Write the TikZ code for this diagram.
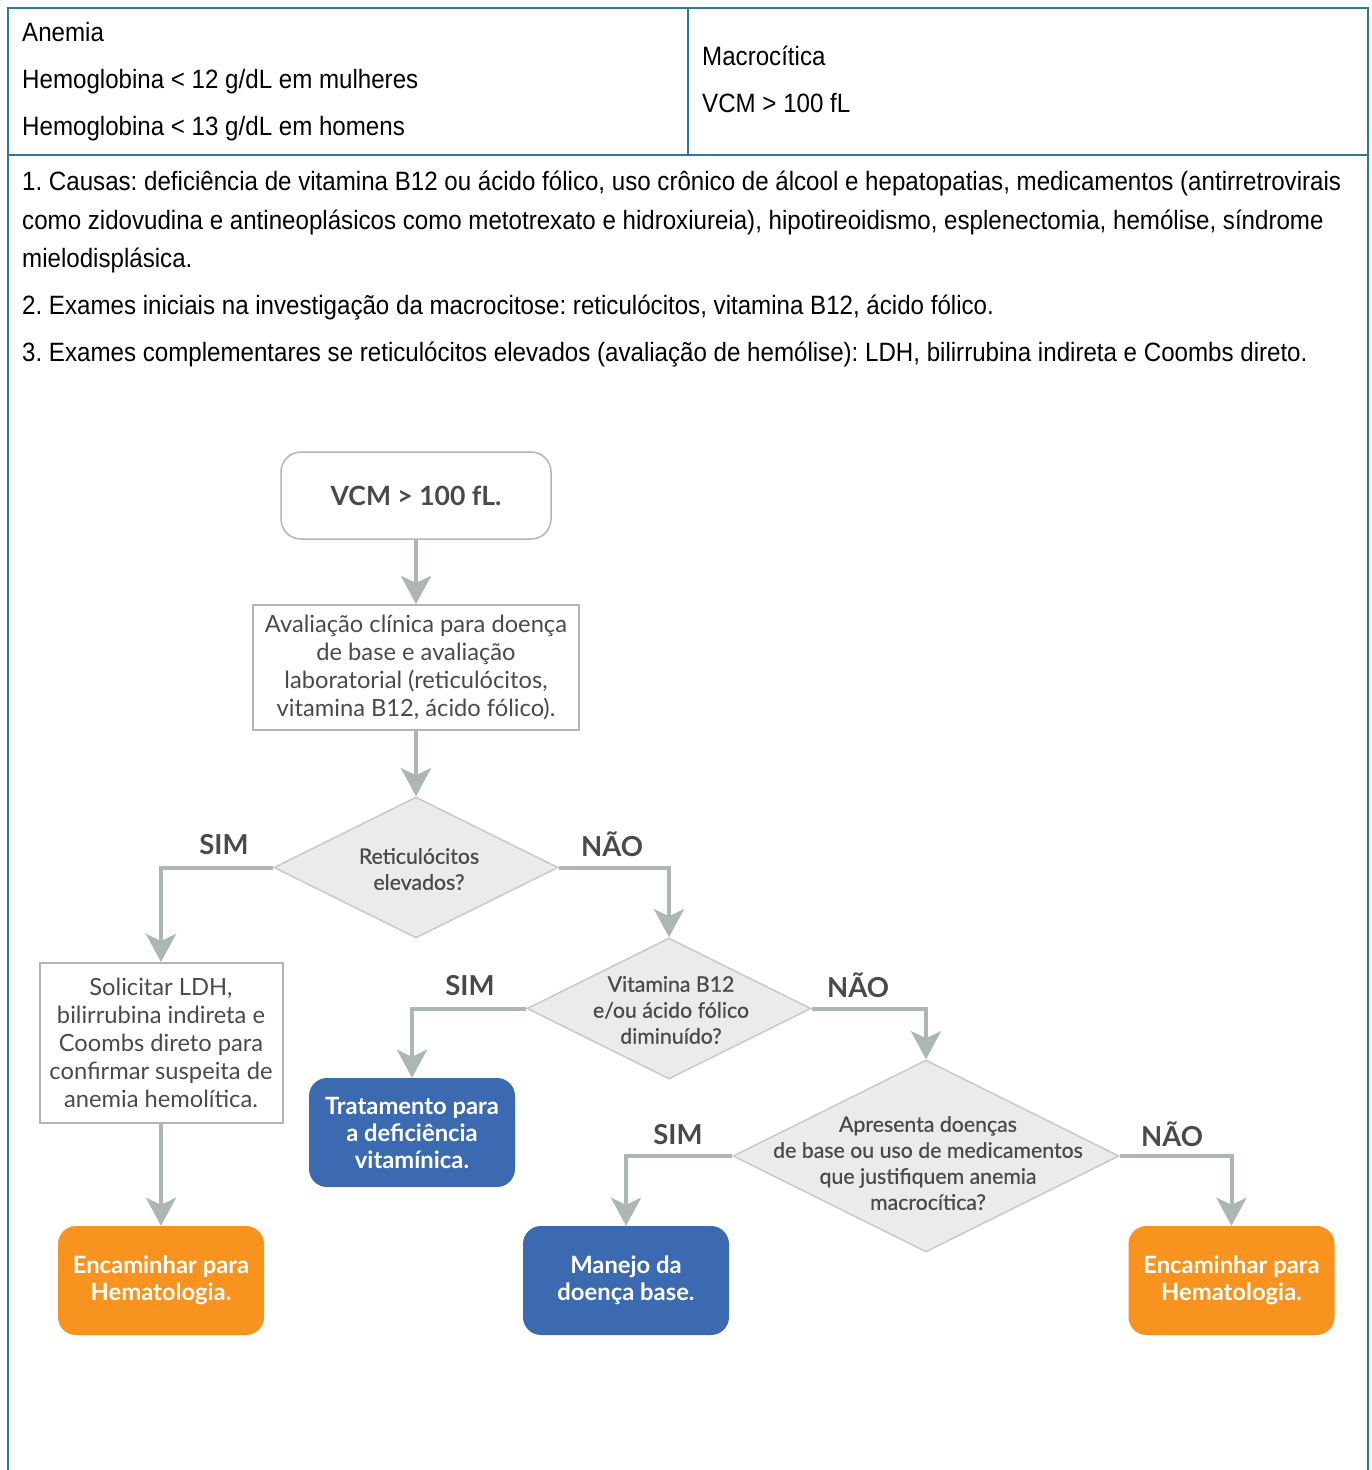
\documentclass[tikz,border=0pt]{standalone}
\usepackage{fontspec}
\setmainfont[FakeStretch=0.91]{Liberation Sans}
\newfontfamily\lato{Lato}
\newfontfamily\latomed[FakeBold=0.6]{Lato}
\usetikzlibrary{arrows.meta,shapes.geometric}

\definecolor{framecol}{HTML}{2F7896}
\definecolor{flowgray}{HTML}{ABB6B5}
\definecolor{boxline}{HTML}{B4B4B4}
\definecolor{decfill}{HTML}{EBEBE9}
\definecolor{decline}{HTML}{C9C9C9}
\definecolor{txtgray}{HTML}{4A4A4A}
\definecolor{blueact}{HTML}{3C6AB0}
\definecolor{orangeact}{HTML}{F7931E}

\begin{document}
\frenchspacing
\begin{tikzpicture}[x=1pt,y=-1pt,
    headtxt/.style={anchor=west,inner sep=0pt,font=\fontsize{26.5}{30}\selectfont},
    paratxt/.style={anchor=north west,inner sep=0pt,align=left,font=\fontsize{26.5}{38.5}\selectfont},
    startbox/.style={draw=boxline,line width=1.5pt,rounded corners=20pt,fill=white,
        minimum width=270pt,minimum height=87pt,text=txtgray,font=\lato\bfseries\fontsize{26.5}{30}\selectfont},
    infobox/.style={draw=boxline,line width=2pt,fill=white,align=center,inner sep=0pt,
        text=txtgray,font=\lato\fontsize{23.7}{28}\selectfont},
    dec/.style={diamond,draw=decline,line width=1.5pt,fill=decfill,inner sep=0pt},
    dectxt/.style={align=center,text=txtgray,font=\latomed\fontsize{21.3}{26}\selectfont},
    actbox/.style={rounded corners=18pt,minimum width=206pt,minimum height=109pt,align=center,
        text=white,font=\lato\bfseries\fontsize{23.8}{27}\selectfont},
    lbl/.style={text=txtgray,font=\lato\bfseries\fontsize{27.5}{30}\selectfont},
    flow/.style={draw=flowgray,line width=4pt,-{Stealth[length=28pt,width=30pt,inset=7pt,fill=flowgray]}}]

    \useasboundingbox (0,0) rectangle (1372,1470);

    \draw[framecol,line width=2pt] (8,1470) -- (8,8) -- (1368,8) -- (1368,1470);
    \draw[framecol,line width=2pt] (8,155) -- (1368,155);
    \draw[framecol,line width=2pt] (688,8) -- (688,155);

    \node[headtxt] (anemia) at (22,32) {Anemia};
    \node[headtxt] (hbm) at (22,82) {Hemoglobina < 12 g/dL em mulheres};
    \node[headtxt] (hbh) at (22,129) {Hemoglobina < 13 g/dL em homens};
    \node[headtxt] (macro) at (702,56) {Macrocítica};
    \node[headtxt] (vcmtxt) at (702,103) {VCM > 100 fL};

    \node[paratxt] (causas) at (22,171) {1. Causas: deficiência de vitamina B12 ou ácido fólico, uso crônico de álcool e hepatopatias, medicamentos (antirretrovirais\\
        como zidovudina e antineoplásicos como metotrexato e hidroxiureia), hipotireoidismo, esplenectomia, hemólise, síndrome\\
        mielodisplásica.};
    \node[paratxt] (exini) at (22,295) {2. Exames iniciais na investigação da macrocitose: reticulócitos, vitamina B12, ácido fólico.};
    \node[paratxt] (excomp) at (22,342) {3. Exames complementares se reticulócitos elevados (avaliação de hemólise): LDH, bilirrubina indireta e Coombs direto.};

    \node[startbox] (vcm) at (416,495.5) {VCM > 100 fL.};
    \node[infobox,minimum width=326pt,minimum height=125pt] (eval) at (416,667.5)
        {Avaliação clínica para doença\\de base e avaliação\\laboratorial (reticulócitos,\\vitamina B12, ácido fólico).};

    \node[dec,minimum width=284pt,minimum height=141pt] (reti) at (416,867.5) {};
    \node[dectxt] (retitxt) at (419,869) {Reticulócitos\\elevados?};
    \node[dec,minimum width=284pt,minimum height=141pt] (vitb) at (669,1008.5) {};
    \node[dectxt] (vitbtxt) at (671,1010) {Vitamina B12\\e/ou ácido fólico\\diminuído?};
    \node[dec,minimum width=386pt,minimum height=192pt] (doenca) at (926,1156) {};
    \node[dectxt] (doencatxt) at (928,1163) {Apresenta doenças\\de base ou uso de medicamentos\\que justifiquem anemia\\macrocítica?};

    \node[infobox,minimum width=243pt,minimum height=160pt] (ldh) at (161,1043)
        {Solicitar LDH,\\bilirrubina indireta e\\Coombs direto para\\confirmar suspeita de\\anemia hemolítica.};
    \node[actbox,fill=orangeact] (hemato) at (161,1280.5) {Encaminhar para\\Hematologia.};
    \node[actbox,fill=blueact] (trat) at (412,1132.5) {Tratamento para\\a deficiência\\vitamínica.};
    \node[actbox,fill=blueact] (manejo) at (626,1280.5) {Manejo da\\doença base.};
    \node[actbox,fill=orangeact] (hematob) at (1231.5,1280.5) {Encaminhar para\\Hematologia.};

    \node[lbl] (sima) at (224,845) {SIM};
    \node[lbl] (naoa) at (612,844) {NÃO};
    \node[lbl] (simb) at (470,986) {SIM};
    \node[lbl] (naob) at (858,985) {NÃO};
    \node[lbl] (simc) at (678,1135) {SIM};
    \node[lbl] (naoc) at (1172,1134) {NÃO};

    \draw[flow] (vcm) -- (eval);
    \draw[flow] (eval) -- (reti);
    \draw[flow] (reti.west) -| (ldh);
    \draw[flow] (reti.east) -| (vitb);
    \draw[flow] (ldh) -- (hemato);
    \draw[flow] (vitb.west) -| (trat);
    \draw[flow] (vitb.east) -| (doenca);
    \draw[flow] (doenca.west) -| (manejo);
    \draw[flow] (doenca.east) -| (hematob);
\end{tikzpicture}
\end{document}
